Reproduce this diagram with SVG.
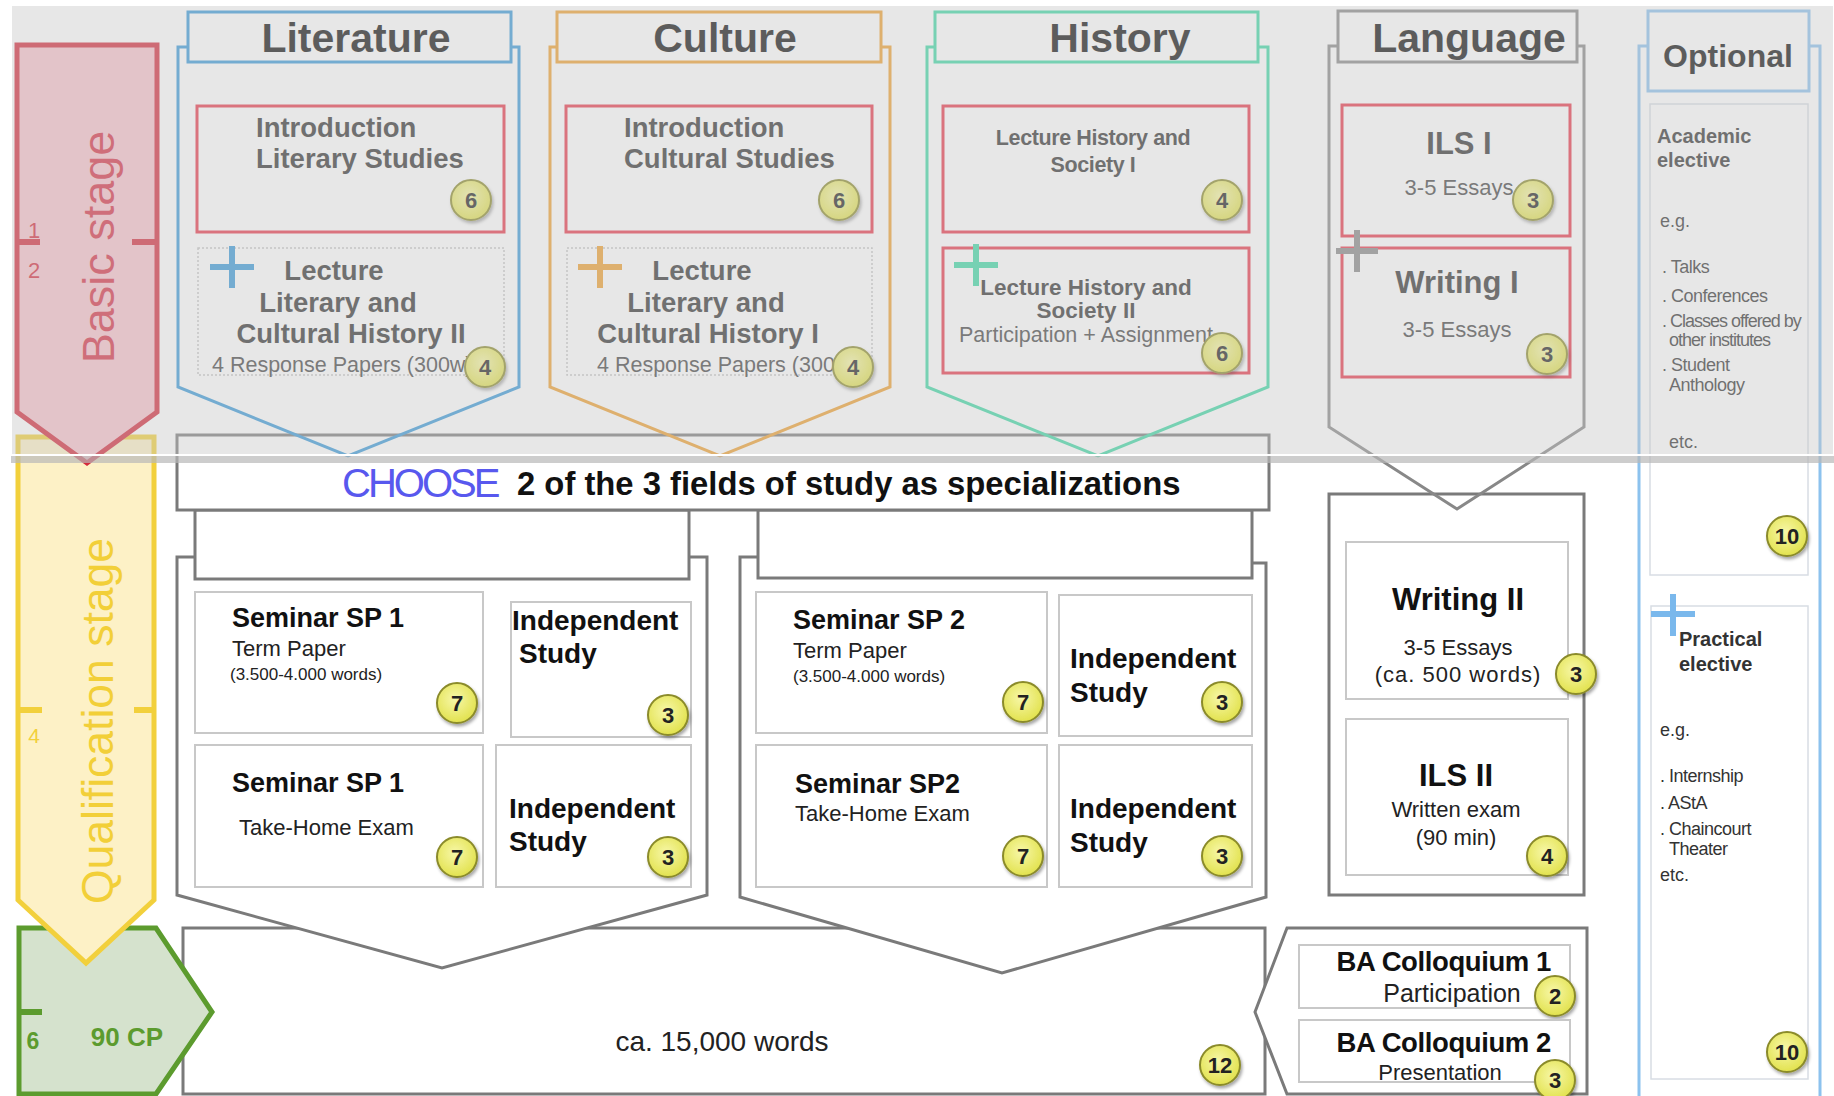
<svg xmlns="http://www.w3.org/2000/svg" width="1834" height="1096" viewBox="0 0 1834 1096">
<defs>
<style>
text{font-family:"Liberation Sans",Arial,sans-serif}
.hd{font-size:41px;font-weight:bold;fill:#111;text-anchor:middle}
.b27{font-size:27.5px;font-weight:bold;fill:#333}
.b27m{font-size:27.5px;font-weight:bold;fill:#333;text-anchor:middle}
.sm{font-size:21.5px;fill:#444}
.bk{font-size:27px;font-weight:bold;fill:#111}
.r22{font-size:22px;fill:#222}
.r17{font-size:17px;fill:#222}
.ind{font-size:28px;font-weight:bold;fill:#111}
.mid{text-anchor:middle}
.opt{font-size:18px;fill:#333}
.optb{font-size:20px;font-weight:bold;fill:#333}
.bd{fill:url(#bg);stroke:#8b8b2c;stroke-width:2;filter:url(#sh)}
.bn{font-size:22px;font-weight:bold;fill:#222;text-anchor:middle}
.red{fill:none;stroke:#e8384a;stroke-width:3}
.lt{fill:#fff;stroke:#c8c8c8;stroke-width:2}
.dot{fill:none;stroke:#c4c4c4;stroke-width:1.5;stroke-dasharray:2 2}
.gr{fill:#fff;stroke:#7a7a7a;stroke-width:3}
.ob{fill:none;stroke:#d8dde4;stroke-width:1.5}
</style>
<radialGradient id="bg" cx="45%" cy="40%" r="60%">
<stop offset="0" stop-color="#f7f7a8"/>
<stop offset="1" stop-color="#e2e24e"/>
</radialGradient>
<filter id="sh" x="-30%" y="-30%" width="170%" height="170%">
<feDropShadow dx="1.5" dy="2.5" stdDeviation="1.5" flood-color="#000" flood-opacity="0.35"/>
</filter>
</defs>
<rect width="1834" height="1096" fill="#fff"/>

<g id="thesis">
<rect x="183" y="928" width="1082" height="166" class="gr"/>
<text x="722" y="1051" class="mid" font-size="28" fill="#222">ca. 15,000 words</text>
<circle class="bd" cx="1220" cy="1065" r="20"/><text class="bn" x="1220" y="1073">12</text>
</g>

<g id="colloquium">
<path d="M1287,928 H1587 V1094 H1287 L1255,1012 Z" class="gr"/>
<rect x="1299" y="945" width="271" height="63" class="lt"/>
<text x="1551" y="971" text-anchor="end" font-size="27.5" font-weight="bold" fill="#111" letter-spacing="-0.4">BA Colloquium 1</text>
<text x="1452" y="1002" class="mid" font-size="25" fill="#222">Participation</text>
<circle class="bd" cx="1555" cy="996" r="20"/><text class="bn" x="1555" y="1004">2</text>
<rect x="1299" y="1020" width="271" height="62" class="lt"/>
<text x="1551" y="1052" text-anchor="end" font-size="27.5" font-weight="bold" fill="#111" letter-spacing="-0.4">BA Colloquium 2</text>
<text x="1440" y="1080" class="mid" font-size="22" fill="#222">Presentation</text>
<circle class="bd" cx="1555" cy="1080" r="20"/><text class="bn" x="1555" y="1088">3</text>
</g>

<g id="sp1">
<path d="M195,557 H177 V895 L442,968 L707,895 V557 H689" class="gr"/>
<rect x="195" y="510" width="494" height="69" class="gr"/>
<rect x="195" y="592" width="288" height="141" class="lt"/>
<text x="232" y="627" class="bk">Seminar SP 1</text>
<text x="232" y="656" class="r22">Term Paper</text>
<text x="230" y="680" class="r17">(3.500-4.000 words)</text>
<circle class="bd" cx="457" cy="703" r="20"/><text class="bn" x="457" y="711">7</text>
<rect x="511" y="602" width="180" height="135" class="lt"/>
<text x="512" y="630" class="ind">Independent</text>
<text x="519" y="663" class="ind">Study</text>
<circle class="bd" cx="668" cy="715" r="20"/><text class="bn" x="668" y="723">3</text>
<rect x="195" y="745" width="288" height="142" class="lt"/>
<text x="232" y="792" class="bk">Seminar SP 1</text>
<text x="239" y="835" class="r22">Take-Home Exam</text>
<circle class="bd" cx="457" cy="857" r="20"/><text class="bn" x="457" y="865">7</text>
<rect x="496" y="745" width="195" height="142" class="lt"/>
<text x="509" y="818" class="ind">Independent</text>
<text x="509" y="851" class="ind">Study</text>
<circle class="bd" cx="668" cy="857" r="20"/><text class="bn" x="668" y="865">3</text>
</g>

<g id="sp2">
<path d="M758,557 H740 V897 L1002,973 L1266,897 V563 H1252" class="gr"/>
<rect x="758" y="510" width="494" height="68" class="gr"/>
<rect x="756" y="592" width="291" height="141" class="lt"/>
<text x="793" y="629" class="bk">Seminar SP 2</text>
<text x="793" y="658" class="r22">Term Paper</text>
<text x="793" y="682" class="r17">(3.500-4.000 words)</text>
<circle class="bd" cx="1023" cy="702" r="20"/><text class="bn" x="1023" y="710">7</text>
<rect x="1059" y="595" width="193" height="141" class="lt"/>
<text x="1070" y="668" class="ind">Independent</text>
<text x="1070" y="702" class="ind">Study</text>
<circle class="bd" cx="1222" cy="702" r="20"/><text class="bn" x="1222" y="710">3</text>
<rect x="756" y="745" width="291" height="142" class="lt"/>
<text x="795" y="793" class="bk">Seminar SP2</text>
<text x="795" y="821" class="r22">Take-Home Exam</text>
<circle class="bd" cx="1023" cy="856" r="20"/><text class="bn" x="1023" y="864">7</text>
<rect x="1059" y="745" width="193" height="142" class="lt"/>
<text x="1070" y="818" class="ind">Independent</text>
<text x="1070" y="852" class="ind">Study</text>
<circle class="bd" cx="1222" cy="856" r="20"/><text class="bn" x="1222" y="864">3</text>
</g>

<g id="language-advanced">
<rect x="1329" y="494" width="255" height="401" class="gr"/>
<rect x="1346" y="542" width="222" height="157" class="lt"/>
<text x="1458" y="610" class="mid" font-size="31" font-weight="bold" fill="#111">Writing II</text>
<text x="1458" y="655" class="mid r22">3-5 Essays</text>
<text x="1458" y="682" class="mid r22" letter-spacing="1">(ca. 500 words)</text>
<circle class="bd" cx="1576" cy="674" r="20"/><text class="bn" x="1576" y="682">3</text>
<rect x="1346" y="719" width="222" height="156" class="lt"/>
<text x="1456" y="786" class="mid" font-size="31" font-weight="bold" fill="#111">ILS II</text>
<text x="1456" y="817" class="mid r22">Written exam</text>
<text x="1456" y="845" class="mid r22">(90 min)</text>
<circle class="bd" cx="1547" cy="856" r="20"/><text class="bn" x="1547" y="864">4</text>
</g>

<g id="choose">
<rect x="177" y="435" width="1092" height="75" class="gr"/>
<text x="342" y="497" font-size="40" fill="#5858ee" letter-spacing="-3">CHOOSE</text>
<text x="517" y="495" font-size="32.8" font-weight="bold" fill="#111">2 of the 3 fields of study as specializations</text>
</g>

<g id="stage-final">
<path d="M19,928 H156 L212,1012 L156,1094 H19 Z" fill="#d5e2cd" stroke="#5c9b2e" stroke-width="5"/>
<path d="M19,1012 H42" stroke="#5c9b2e" stroke-width="6"/>
<text x="33" y="1049" class="mid" font-size="23" font-weight="bold" fill="#5c9b2e">6</text>
<text x="127" y="1046" class="mid" font-size="26" font-weight="bold" fill="#5c9b2e">90 CP</text>
</g>

<g id="stage-qualification">
<path d="M18,437 H154 V900 L86,963 L18,900 Z" fill="#fdf1c6" stroke="#f2d03c" stroke-width="5"/>
<path d="M18,710 H42 M134,710 H154" stroke="#f2d03c" stroke-width="6"/>
<text x="34" y="743" class="mid" font-size="21" fill="#f2d03c">4</text>
<text transform="translate(113,721) rotate(-90)" class="mid" font-size="44.5" fill="#f2cf38">Qualification stage</text>
</g>

<g id="stage-basic">
<path d="M17,45 H157 V412 L87,463 L17,412 Z" fill="#f8c3cc" stroke="#d42a3c" stroke-width="5"/>
<path d="M17,242 H40 M132,242 H157" stroke="#d42a3c" stroke-width="6"/>
<text x="34" y="238" class="mid" font-size="22" fill="#d42a3c">1</text>
<text x="34" y="278" class="mid" font-size="22" fill="#d42a3c">2</text>
<text transform="translate(114,247) rotate(-90)" class="mid" font-size="45" fill="#d63044">Basic stage</text>
</g>

<g id="col-literature">
<path d="M188,47 H178 V387 L348,456 L519,387 V47 H511" fill="none" stroke="#3a9ad9" stroke-width="3"/>
<rect x="188" y="12" width="323" height="50" fill="none" stroke="#3a9ad9" stroke-width="3"/>
<text x="356" y="52" class="hd">Literature</text>
<rect x="197" y="106" width="307" height="126" class="red"/>
<text x="256" y="137" class="b27">Introduction</text>
<text x="256" y="168" class="b27">Literary Studies</text>
<circle class="bd" cx="471" cy="200" r="20"/><text class="bn" x="471" y="208">6</text>
<rect x="198" y="248" width="306" height="127" class="dot"/>
<path d="M210,267 H254 M232,246 V288" stroke="#3a9ad9" stroke-width="6"/>
<text x="334" y="280" class="b27m">Lecture</text>
<text x="338" y="312" class="b27m">Literary and</text>
<text x="351" y="343" class="b27m">Cultural History II</text>
<text x="212" y="372" class="sm">4 Response Papers (300w)</text>
<circle class="bd" cx="485" cy="367" r="20"/><text class="bn" x="485" y="375">4</text>
</g>

<g id="col-culture">
<path d="M557,47 H550 V387 L720,456 L890,387 V47 H881" fill="none" stroke="#f0a030" stroke-width="3"/>
<rect x="557" y="12" width="324" height="50" fill="none" stroke="#f0a030" stroke-width="3"/>
<text x="725" y="52" class="hd">Culture</text>
<rect x="566" y="106" width="306" height="126" class="red"/>
<text x="624" y="137" class="b27">Introduction</text>
<text x="624" y="168" class="b27">Cultural Studies</text>
<circle class="bd" cx="839" cy="200" r="20"/><text class="bn" x="839" y="208">6</text>
<rect x="567" y="248" width="305" height="127" class="dot"/>
<path d="M578,267 H622 M600,246 V288" stroke="#f0a030" stroke-width="6"/>
<text x="702" y="280" class="b27m">Lecture</text>
<text x="706" y="312" class="b27m">Literary and</text>
<text x="708" y="343" class="b27m">Cultural History I</text>
<text x="597" y="372" class="sm">4 Response Papers (300w)</text>
<circle class="bd" cx="853" cy="367" r="20"/><text class="bn" x="853" y="375">4</text>
</g>

<g id="col-history">
<path d="M935,47 H927 V387 L1098,456 L1268,387 V47 H1258" fill="none" stroke="#3fd9a5" stroke-width="3"/>
<rect x="935" y="12" width="323" height="50" fill="none" stroke="#3fd9a5" stroke-width="3"/>
<text x="1120" y="52" class="hd">History</text>
<rect x="943" y="106" width="306" height="126" class="red"/>
<text x="1093" y="145" class="mid" font-size="21.5" font-weight="bold" fill="#333" letter-spacing="-0.4">Lecture History and</text>
<text x="1093" y="172" class="mid" font-size="21.5" font-weight="bold" fill="#333" letter-spacing="-0.4">Society I</text>
<circle class="bd" cx="1222" cy="200" r="20"/><text class="bn" x="1222" y="208">4</text>
<rect x="943" y="248" width="306" height="125" class="red"/>
<path d="M954,265 H998 M976,244 V286" stroke="#3fd9a5" stroke-width="6"/>
<text x="1086" y="295" class="mid" font-size="22.5" font-weight="bold" fill="#333">Lecture History and</text>
<text x="1086" y="318" class="mid" font-size="22.5" font-weight="bold" fill="#333">Society II</text>
<text x="1086" y="342" class="mid sm">Participation + Assignment</text>
<circle class="bd" cx="1222" cy="353" r="20"/><text class="bn" x="1222" y="361">6</text>
</g>

<g id="col-language">
<path d="M1338,46 H1329 V427 L1457,509 L1584,427 V46 H1577" fill="none" stroke="#888" stroke-width="3"/>
<rect x="1338" y="11" width="239" height="51" fill="none" stroke="#888" stroke-width="3"/>
<text x="1469" y="52" class="hd">Language</text>
<rect x="1342" y="105" width="228" height="131" class="red"/>
<text x="1459" y="154" class="mid" font-size="31" font-weight="bold" fill="#333">ILS I</text>
<text x="1459" y="195" class="mid" font-size="22" fill="#444">3-5 Essays</text>
<circle class="bd" cx="1533" cy="200" r="20"/><text class="bn" x="1533" y="208">3</text>
<rect x="1342" y="248" width="228" height="129" class="red"/>
<text x="1457" y="293" class="mid" font-size="31" font-weight="bold" fill="#333">Writing I</text>
<text x="1457" y="337" class="mid" font-size="22" fill="#444">3-5 Essays</text>
<circle class="bd" cx="1547" cy="354" r="20"/><text class="bn" x="1547" y="362">3</text>
<path d="M1336,251 H1378 M1357,230 V272" stroke="#888" stroke-width="6"/>
</g>

<g id="col-optional">
<path d="M1648,46 H1639 V1096 M1809,46 H1820 V1096" fill="none" stroke="#8cc2ee" stroke-width="3"/>
<rect x="1648" y="11" width="161" height="80" fill="none" stroke="#8cc2ee" stroke-width="3"/>
<text x="1728" y="67" class="mid" font-size="32" font-weight="bold" fill="#111">Optional</text>
<rect x="1650" y="104" width="158" height="471" class="ob"/>
<text x="1657" y="143" class="optb">Academic</text>
<text x="1657" y="167" class="optb">elective</text>
<text x="1660" y="227" class="opt">e.g.</text>
<text x="1662" y="273" class="opt" letter-spacing="-0.5">. Talks</text>
<text x="1662" y="302" class="opt" letter-spacing="-0.5">. Conferences</text>
<text x="1662" y="327" class="opt" letter-spacing="-1">. Classes offered by</text>
<text x="1669" y="346" class="opt" letter-spacing="-1">other institutes</text>
<text x="1662" y="371" class="opt" letter-spacing="-0.5">. Student</text>
<text x="1669" y="391" class="opt" letter-spacing="-0.5">Anthology</text>
<text x="1669" y="448" class="opt">etc.</text>
<circle class="bd" cx="1787" cy="536" r="20"/><text class="bn" x="1787" y="544">10</text>
<rect x="1651" y="606" width="157" height="473" class="ob"/>
<path d="M1651,614 H1695 M1673,594 V636" stroke="#7ab8ec" stroke-width="6"/>
<text x="1679" y="646" class="optb">Practical</text>
<text x="1679" y="671" class="optb">elective</text>
<text x="1660" y="736" class="opt">e.g.</text>
<text x="1660" y="782" class="opt" letter-spacing="-0.5">. Internship</text>
<text x="1660" y="809" class="opt" letter-spacing="-0.5">. AStA</text>
<text x="1660" y="835" class="opt" letter-spacing="-0.5">. Chaincourt</text>
<text x="1669" y="855" class="opt" letter-spacing="-0.5">Theater</text>
<text x="1660" y="881" class="opt">etc.</text>
<circle class="bd" cx="1787" cy="1052" r="20"/><text class="bn" x="1787" y="1060">10</text>
</g>

<g id="overlay">
<rect x="11" y="5" width="1823" height="450" fill="#c6c6c6" fill-opacity="0.42" stroke="#fff" stroke-width="2"/>
<rect x="11" y="456" width="1823" height="7" fill="#b8b8b8" fill-opacity="0.7"/>
</g>
</svg>
